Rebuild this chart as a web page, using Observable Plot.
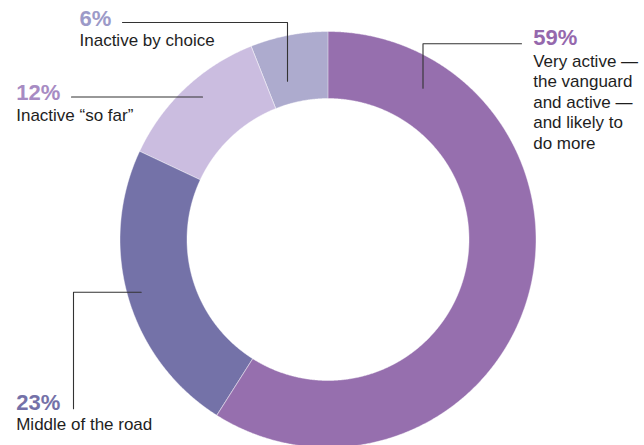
<!DOCTYPE html>
<html>
<head>
<meta charset="utf-8">
<script src="https://cdn.jsdelivr.net/npm/d3@7"></script>
<script src="https://cdn.jsdelivr.net/npm/@observablehq/plot@0.6"></script>
<style>
  html, body { margin: 0; padding: 0; background: #fff; }
  #chart svg { display: block; }
</style>
</head>
<body>
<div id="chart"></div>
<script>
// ---- data ----
const categories = ["Very active", "Middle of the road", "Inactive \u201cso far\u201d", "Inactive by choice"];
const values = [59, 23, 12, 6];
const labelTexts = [
  "Very active \u2014\nthe vanguard\nand active \u2014\nand likely to\ndo more",
  "Middle of the road",
  "Inactive \u201cso far\u201d",
  "Inactive by choice"
];

// ---- styles ----
const sliceColors = ["#966fae", "#7472a8", "#cbbde0", "#adabce"];
const pctColors   = ["#9568ad", "#7471a8", "#a78bc3", "#9c9ac8"];

// ---- layout (pixels) ----
const W = 644, H = 445;
const CX = 327.5, CY = 239, R = 208, INNER = 141 / 208;
const px = v => (v - CX) / R;   // pixel -> data units
const py = v => (CY - v) / R;

const annLayout = [
  {pctX: 532.7, pctY: 44.3, bodyY: 66,    leader: [[521, 43.3], [422.5, 43.3], [422.5, 87.7]]},
  {pctX: 15.7,  pctY: 409.3, bodyY: 429.3, leader: [[140.7, 291.7], [73, 291.7], [73, 408.3]]},
  {pctX: 15.7,  pctY: 99.3,  bodyY: 120.7, leader: [[71, 96.5], [202, 96.5]]},
  {pctX: 79,    pctY: 25,    bodyY: 45.7,  leader: [[122, 22], [287, 22], [287, 80.7]]}
];

// ---- slices from data ----
const arcs = d3.pie().sort(null)(values);
const slicePts = [];
arcs.forEach((a, i) => {
  const n = Math.max(8, Math.ceil((a.endAngle - a.startAngle) / 0.005));
  for (let k = 0; k <= n; k++) {
    const t = a.startAngle + (a.endAngle - a.startAngle) * k / n;
    slicePts.push({key: categories[i], x: Math.sin(t), y: Math.cos(t)});
  }
  for (let k = n; k >= 0; k--) {
    const t = a.startAngle + (a.endAngle - a.startAngle) * k / n;
    slicePts.push({key: categories[i], x: INNER * Math.sin(t), y: INNER * Math.cos(t)});
  }
});

const leaderPts = [];
annLayout.forEach((l, i) => l.leader.forEach(([x, y]) => leaderPts.push({key: categories[i], x: px(x), y: py(y)})));

const pctData = categories.map((c, i) => ({key: c, text: values[i] + "%", x: px(annLayout[i].pctX), y: py(annLayout[i].pctY), color: pctColors[i]}));
const bodyData = categories.map((c, i) => ({key: c, text: labelTexts[i], x: px(annLayout[i].pctX), y: py(annLayout[i].bodyY)}));

const FS = 17, LH = 20.6 / 17;

const chart = Plot.plot({
  width: W,
  height: H,
  margin: 0,
  style: {fontFamily: "'Liberation Sans', Arial, sans-serif", background: "#fff", overflow: "visible"},
  x: {domain: [-1, 1], range: [CX - R, CX + R], axis: null},
  y: {domain: [-1, 1], range: [CY + R, CY - R], axis: null},
  color: {domain: categories, range: sliceColors},
  marks: [
    Plot.line(slicePts, {x: "x", y: "y", z: "key", fill: "key", stroke: "#ffffff", strokeWidth: 0.6, strokeOpacity: 0.7, curve: "linear-closed"}),
    Plot.line(leaderPts, {x: "x", y: "y", z: "key", stroke: "#333333", strokeWidth: 1.1}),
    Plot.text(pctData, {x: "x", y: "y", text: "text", fill: d => d.color, textAnchor: "start", lineAnchor: "bottom", fontSize: 22, fontWeight: "bold"}),
    Plot.text(bodyData, {x: "x", y: "y", text: "text", fill: "#1e1e1e", textAnchor: "start", lineAnchor: "top", fontSize: FS, lineHeight: LH, dy: -0.71 * FS * LH})
  ]
});
document.getElementById("chart").appendChild(chart);
</script>
</body>
</html>
